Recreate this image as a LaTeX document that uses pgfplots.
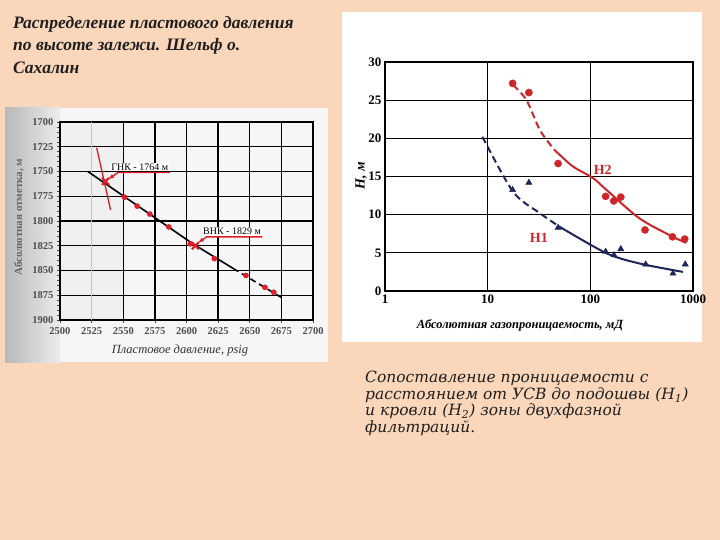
\documentclass[border=0pt]{standalone}
\usepackage{fontspec}
\setmainfont{Liberation Serif}
\newfontfamily\capfont{DejaVu Serif}
\usepackage{pgfplots}
\pgfplotsset{compat=1.18}
\usetikzlibrary{arrows.meta}

\definecolor{slide}{RGB}{250,214,186}
\definecolor{scan}{RGB}{246,246,249}
\definecolor{pred}{RGB}{222,30,40}
\definecolor{hred}{RGB}{205,38,42}
\definecolor{hblue}{RGB}{30,38,88}

% slide pixel -> point, y measured downwards
\newcommand{\px}[2]{(#1pt,-#2pt)}

\begin{document}
\begin{tikzpicture}
% slide background
\fill[slide] \px{0}{0} rectangle \px{720}{540};

% titles
\node[anchor=north west, align=left, inner sep=0pt,
      font=\fontsize{17.5}{22.5}\selectfont\bfseries\itshape, text=black!88]
  at \px{13}{16} {Распределение пластового давления\\по высоте залежи. Шельф о.\\Сахалин};

\node[anchor=north west, align=left, inner sep=0pt,
      font=\capfont\fontsize{15.5}{16.5}\selectfont\itshape, text=black!88]
  at \px{365}{371} {Сопоставление проницаемости с\\расстоянием от УСВ до подошвы (\textit{H}\textsubscript{1})\\и кровли (\textit{H}\textsubscript{2}) зоны двухфазной\\фильтраций.};

% scanned picture backgrounds
\fill[scan] \px{5}{108} rectangle \px{328}{362};
\shade[left color=gray!55, right color=gray!15] \px{5}{108} rectangle \px{60}{362};
\fill[gray!12] \px{60}{122} rectangle \px{124}{320};
\fill[white] \px{342}{12} rectangle \px{702}{342};

% ---------- left chart: pressure vs depth ----------
\begin{axis}[
  at={(186.5pt,-221pt)}, anchor=center,
  scale only axis, width=253pt, height=198pt,
  xmin=2500, xmax=2700, ymin=1700, ymax=1900,
  y dir=reverse,
  xtick={2500,2550,2575,2600,2625,2650,2675,2700},
  extra x ticks={2525},
  extra x tick style={grid style={gray!45, line width=1pt}},
  ytick={1700,1725,...,1900},
  minor y tick num=4,
  xtick pos=bottom, ytick pos=left,
  tick align=outside,
  major tick length=3pt, minor tick length=3pt,
  tick style={black!70, line width=0.6pt},
  grid=major,
  grid style={black, line width=1.3pt},
  axis line style={black, line width=1.3pt},
  /pgf/number format/assume math mode=true,
  /pgf/number format/set thousands separator={},
  tick label style={font=\fontsize{10.5}{10.5}\selectfont\bfseries, text=black!70},
  xticklabel style={yshift=-1pt},
  clip=false,
]
\addplot[black, line width=1.6pt] coordinates {(2522,1750) (2605,1823) (2637,1848)};
\addplot[black, line width=1.6pt, dash pattern=on 6pt off 4pt] coordinates {(2637,1848) (2676,1878)};
\addplot[only marks, mark=*, mark size=2.6pt, pred] coordinates {
  (2551,1776) (2561,1785) (2571,1793) (2586,1806) (2603,1823)
  (2622,1838) (2647,1855) (2662,1867) (2669,1872)};
% contact markers
\addplot[pred, line width=1.3pt] coordinates {(2529,1726) (2540,1789)};
\addplot[only marks, mark=x, mark size=5pt, pred, line width=2.2pt] coordinates {(2536,1760)};
\addplot[only marks, mark=x, mark size=5pt, pred, line width=2.2pt] coordinates {(2607,1825)};
\draw[pred, line width=1.4pt, -{Latex[length=6pt]}] (axis cs:2587,1751) -- (axis cs:2546,1751) -- (axis cs:2538,1758);
\draw[pred, line width=1.4pt, -{Latex[length=6pt]}] (axis cs:2660,1816) -- (axis cs:2616,1816) -- (axis cs:2609,1822);
\node[fill=white, inner sep=1pt, font=\fontsize{10}{10}\selectfont, anchor=south] at (axis cs:2563,1750) {ГНК - 1764 м};
\node[fill=white, inner sep=1pt, font=\fontsize{10}{10}\selectfont, anchor=south] at (axis cs:2636,1815) {ВНК - 1829 м};
\end{axis}
\node[rotate=90, font=\fontsize{11}{11}\selectfont\bfseries, text=black!60] at \px{19}{217} {Абсолютная отметка, м};
\node[font=\fontsize{12.5}{12.5}\selectfont\itshape, text=black!80] at \px{180}{350} {Пластовое давление, psig};

% ---------- right chart: permeability vs H ----------
\begin{axis}[
  at={(539pt,-176.5pt)}, anchor=center,
  scale only axis, width=308pt, height=229pt,
  xmode=log, xmin=1, xmax=1000, ymin=0, ymax=30,
  xtick={1,10,100,1000}, xticklabels={1,10,100,1000},
  ytick={0,5,...,30},
  xminorticks=false,
  tick style={draw=none},
  grid=major,
  grid style={black, line width=1.2pt},
  axis line style={black, line width=1.8pt},
  /pgf/number format/assume math mode=true,
  tick label style={font=\fontsize{13}{13}\selectfont\bfseries},
  clip=false,
]
% H2
\addplot[hred, line width=2pt, dash pattern=on 7pt off 4pt, smooth] coordinates {
  (17.7,27.0) (23.9,25.0) (32.2,21.1) (43.4,18.7) (48,18.1)};
\addplot[hred, line width=2pt, smooth] coordinates {
  (48,18.1) (67.9,16.3) (106,14.8) (143.5,13.25) (302,9.5) (638,7.1) (860,6.3)};
\addplot[only marks, mark=*, mark size=3.6pt, hred] coordinates {
  (17.5,27.2) (25.2,26.0) (48.5,16.7) (141,12.4) (169,11.8) (198,12.3) (341,8.0) (630,7.1) (830,6.8)};
% H1
\addplot[hblue, line width=2pt, dash pattern=on 7pt off 4pt, smooth] coordinates {
  (8.9,20.2) (17.7,13.0) (32.2,10.2) (50.4,8.4)};
\addplot[hblue, line width=2pt, smooth] coordinates {
  (50.4,8.4) (143.5,4.95) (302,3.6) (800,2.5)};
\addplot[only marks, mark=triangle*, mark size=3.6pt, hblue] coordinates {
  (17.5,13.25) (25.2,14.2) (48.5,8.3) (141,5.15) (170,4.7) (198,5.5) (346,3.5) (638,2.3) (840,3.5)};
\node[text=hred, font=\fontsize{14}{14}\selectfont\bfseries] at (axis cs:132,15.9) {H2};
\node[text=hred, font=\fontsize{14}{14}\selectfont\bfseries] at (axis cs:31.5,6.9) {H1};
\end{axis}
\node[rotate=90, font=\fontsize{14}{14}\selectfont\bfseries\itshape] at \px{361}{176} {\textit{H}, м};
\node[font=\fontsize{12.5}{12.5}\selectfont\bfseries\itshape] at \px{520}{325} {Абсолютная газопроницаемость, мД};
\end{tikzpicture}
\end{document}
